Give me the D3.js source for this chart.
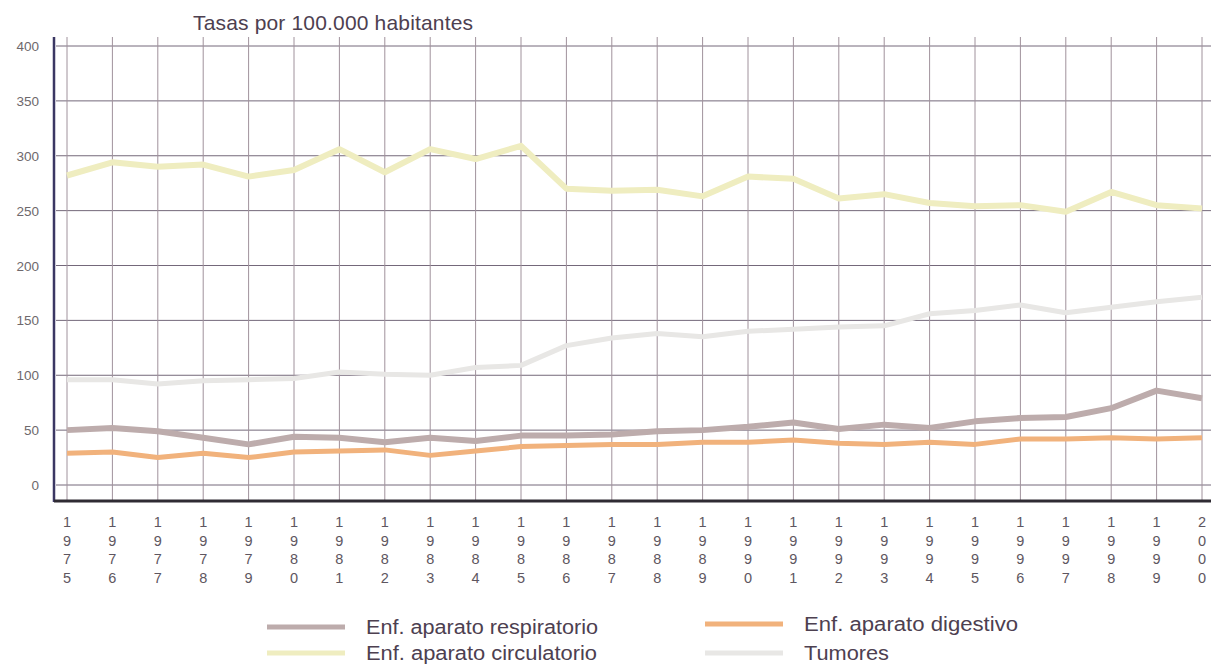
<!DOCTYPE html>
<html>
<head>
<meta charset="utf-8">
<script src="https://cdn.jsdelivr.net/npm/d3@7.9.0/dist/d3.min.js"></script>
<style>
  body { margin: 0; background: #fff; }
  svg { display: block; font-family: "Liberation Sans", Arial, sans-serif; }
</style>
</head>
<body>
<svg id="chart" width="1211" height="664"></svg>
<script>
// Data
const years = d3.range(1975, 2001);
const yTicks = [0, 50, 100, 150, 200, 250, 300, 350, 400];

const respiratorio = [50, 52, 49, 43, 37, 44, 43, 39, 43, 40, 45, 45, 46, 49, 50, 53, 57, 51, 55, 52, 58, 61, 62, 70, 86, 79];
const circulatorio = [282, 294, 290, 292, 281, 287, 306, 285, 306, 297, 309, 270, 268, 269, 263, 281, 279, 261, 265, 257, 254, 255, 249, 267, 255, 252];
const digestivo = [29, 30, 25, 29, 25, 30, 31, 32, 27, 31, 35, 36, 37, 37, 39, 39, 41, 38, 37, 39, 37, 42, 42, 43, 42, 43];
const tumores = [96, 96, 92, 95, 96, 97, 103, 101, 100, 107, 109, 127, 134, 138, 135, 140, 142, 144, 145, 156, 159, 164, 157, 162, 167, 171];

const series = [
  { name: 'Tumores', values: tumores, color: '#e8e7e5', width: 5 },
  { name: 'Enf. aparato circulatorio', values: circulatorio, color: '#efedc0', width: 6 },
  { name: 'Enf. aparato respiratorio', values: respiratorio, color: '#bdacac', width: 6 },
  { name: 'Enf. aparato digestivo', values: digestivo, color: '#f1b27c', width: 5 }
];

const svg = d3.select('#chart');

const x = d3.scaleLinear().domain([1975, 2000]).range([67, 1202]);
const y = d3.scaleLinear().domain([0, 400]).range([485, 46]);

// Grid
svg.append('g')
  .selectAll('line')
  .data(yTicks)
  .join('line')
  .attr('x1', 56).attr('x2', 1211)
  .attr('y1', d => y(d)).attr('y2', d => y(d))
  .attr('stroke', '#74687a').attr('stroke-width', 1);

svg.append('g')
  .selectAll('line')
  .data(years)
  .join('line')
  .attr('x1', d => x(d)).attr('x2', d => x(d))
  .attr('y1', 37).attr('y2', 500)
  .attr('stroke', '#a0929c').attr('stroke-width', 1);

// Axis lines
svg.append('line')
  .attr('x1', 54).attr('x2', 54).attr('y1', 37).attr('y2', 502)
  .attr('stroke', '#3b3763').attr('stroke-width', 2.5);
svg.append('line')
  .attr('x1', 54).attr('x2', 1211).attr('y1', 501).attr('y2', 501)
  .attr('stroke', '#2f2b33').attr('stroke-width', 3);

// Y tick labels
svg.append('g')
  .selectAll('text')
  .data(yTicks)
  .join('text')
  .attr('x', 39).attr('y', d => y(d) + 5)
  .attr('text-anchor', 'end')
  .attr('font-size', 13.5)
  .attr('fill', '#6e686c')
  .text(d => d);

// X tick labels, digits stacked vertically
const xLabels = svg.append('g')
  .selectAll('text')
  .data(years)
  .join('text')
  .attr('text-anchor', 'middle')
  .attr('font-size', 14.5)
  .attr('fill', '#5e5660');
xLabels.each(function(d) {
  const t = d3.select(this);
  String(d).split('').forEach((c, i) => {
    t.append('tspan').attr('x', x(d)).attr('y', 527 + i * 18.7).text(c);
  });
});

// Title
svg.append('text')
  .attr('x', 193).attr('y', 30)
  .attr('font-size', 21)
  .attr('fill', '#4d4050')
  .attr('textLength', 280)
  .text('Tasas por 100.000 habitantes');

// Lines
const line = d3.line()
  .x((d, i) => x(years[i]))
  .y(d => y(d));

svg.append('g')
  .selectAll('path')
  .data(series)
  .join('path')
  .attr('d', d => line(d.values))
  .attr('fill', 'none')
  .attr('stroke', d => d.color)
  .attr('stroke-width', d => d.width)
  .attr('stroke-linejoin', 'round');

// Legend
const legendItems = [
  { s: series[2], lx: 267, ly: 627, w: 232 },
  { s: series[3], lx: 705, ly: 624, w: 214 },
  { s: series[1], lx: 267, ly: 653, w: 231 },
  { s: series[0], lx: 705, ly: 653, w: 85 }
];
const legend = svg.append('g');
legendItems.forEach(d => {
  legend.append('line')
    .attr('x1', d.lx).attr('x2', d.lx + 78)
    .attr('y1', d.ly).attr('y2', d.ly)
    .attr('stroke', d.s.color).attr('stroke-width', 5);
  legend.append('text')
    .attr('x', d.lx + 99).attr('y', d.ly + 7)
    .attr('font-size', 19.5)
    .attr('fill', '#4d4050')
    .attr('textLength', d.w)
    .attr('lengthAdjust', 'spacingAndGlyphs')
    .text(d.s.name);
});
</script>
</body>
</html>
